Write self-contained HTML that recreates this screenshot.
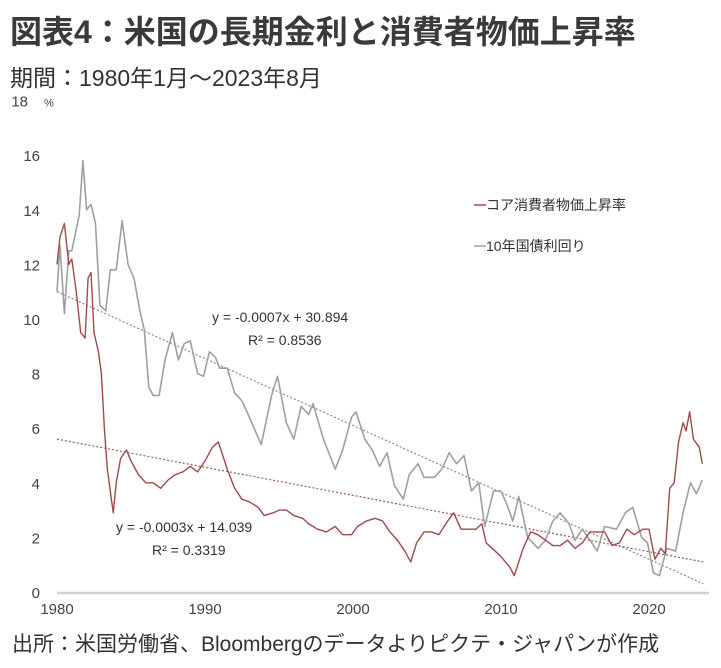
<!DOCTYPE html>
<html><head><meta charset="utf-8">
<style>
body{margin:0;background:#fff;width:721px;height:668px;overflow:hidden;font-family:"Liberation Sans","Noto Sans CJK JP",sans-serif;}
.t{position:absolute;left:10px;white-space:nowrap;color:#333;}
</style></head><body>
<div class="t" style="top:7px;font-size:32px;font-weight:bold;color:#3a3a3a;">図表4：米国の長期金利と消費者物価上昇率</div>
<div class="t" style="top:59px;font-size:23px;">期間：1980年1月～2023年8月</div>
<div class="t" style="top:628px;font-size:21px;left:12px;">出所：米国労働省、Bloombergのデータよりピクテ・ジャパンが作成</div>
<svg id="chart" width="721" height="668" style="position:absolute;left:0;top:0" font-family="Liberation Sans, sans-serif"></svg>
<script>
const yTicks=[0,2,4,6,8,10,12,14,16,18];
const xTicks=[1980,1990,2000,2010,2020];
const yieldT=[1980.0,1980.2,1980.5,1980.8,1981.0,1981.5,1981.75,1982.0,1982.3,1982.6,1982.9,1983.3,1983.6,1984.0,1984.4,1984.8,1985.2,1985.6,1985.9,1986.2,1986.5,1986.9,1987.3,1987.8,1988.2,1988.6,1989.0,1989.5,1989.9,1990.3,1990.7,1991.0,1991.5,1992.0,1992.5,1993.0,1993.8,1994.5,1994.9,1995.5,1996.0,1996.5,1997.0,1997.3,1998.0,1998.8,1999.3,1999.9,2000.2,2000.8,2001.3,2001.8,2002.3,2002.8,2003.4,2003.8,2004.4,2004.8,2005.5,2006.0,2006.5,2007.0,2007.5,2008.0,2008.5,2008.9,2009.5,2010.0,2010.4,2010.8,2011.2,2011.8,2012.5,2013.0,2013.5,2014.0,2014.6,2015.0,2015.5,2016.5,2017.0,2017.8,2018.4,2018.9,2019.5,2019.9,2020.3,2020.7,2021.2,2021.8,2022.3,2022.8,2023.2,2023.6];
const yieldV=[11,12.7,10.2,12.5,12.5,13.8,15.8,14,14.2,13.5,10.5,10.3,11.8,11.8,13.6,12,11.5,10.3,9.6,7.5,7.2,7.2,8.5,9.5,8.5,9.1,9.2,8,7.9,8.8,8.6,8.2,8.2,7.3,7,6.4,5.4,7.2,7.9,6.2,5.6,6.8,6.5,6.9,5.6,4.5,5.2,6.4,6.6,5.6,5.2,4.6,5.1,3.9,3.4,4.3,4.7,4.2,4.2,4.5,5.1,4.7,5.0,3.7,4.0,2.4,3.7,3.7,3.2,2.6,3.5,2.0,1.6,1.9,2.6,2.9,2.5,1.9,2.3,1.5,2.4,2.3,2.9,3.1,2.0,1.8,0.7,0.6,1.6,1.5,2.9,4.0,3.6,4.1];
const cpiT=[1980.0,1980.2,1980.5,1980.8,1981.0,1981.3,1981.6,1981.9,1982.1,1982.3,1982.5,1982.8,1983.0,1983.2,1983.4,1983.8,1984.0,1984.3,1984.7,1985.0,1985.5,1986.0,1986.5,1987.0,1987.5,1988.0,1988.5,1989.0,1989.5,1990.0,1990.5,1990.9,1991.5,1992.0,1992.5,1993.0,1993.6,1994.0,1994.6,1995.0,1995.5,1996.0,1996.6,1997.0,1997.6,1998.2,1998.8,1999.3,1999.9,2000.3,2000.9,2001.5,2002.0,2002.5,2003.0,2003.5,2003.9,2004.3,2004.8,2005.3,2005.8,2006.4,2006.8,2007.3,2007.8,2008.3,2008.7,2009.0,2009.6,2010.0,2010.6,2010.9,2011.5,2012.0,2012.5,2013.0,2013.5,2014.0,2014.5,2015.0,2015.5,2016.0,2016.5,2017.0,2017.5,2018.0,2018.5,2019.0,2019.6,2020.0,2020.4,2020.8,2021.1,2021.4,2021.7,2022.0,2022.3,2022.5,2022.75,2023.0,2023.4,2023.6];
const cpiV=[12.0,13.0,13.5,12,12.2,11.0,9.5,9.3,11.5,11.7,9.5,8.8,8.0,6.0,4.5,2.9,4.0,4.9,5.2,4.8,4.3,4.0,4.0,3.8,4.1,4.3,4.4,4.6,4.4,4.8,5.3,5.5,4.5,3.8,3.4,3.3,3.1,2.8,2.9,3.0,3.0,2.8,2.7,2.5,2.3,2.2,2.4,2.1,2.1,2.4,2.6,2.7,2.6,2.2,1.9,1.5,1.1,1.8,2.2,2.2,2.1,2.6,2.9,2.3,2.3,2.3,2.5,1.8,1.5,1.3,0.9,0.6,1.6,2.2,2.1,1.9,1.7,1.7,1.9,1.6,1.8,2.2,2.2,2.2,1.7,1.8,2.3,2.1,2.3,2.3,1.2,1.6,1.4,3.8,4.0,5.5,6.2,5.9,6.6,5.6,5.3,4.7];
const trendT=[1980.0,2023.67];
const yieldTrendV=[11.0,0.3];
const cpiTrendV=[5.6,1.1];
const svg=document.getElementById('chart');
const NS='http://www.w3.org/2000/svg';
const X=t=>57+(t-1980)*14.8;
const Y=v=>592-v*27.3;
function mk(tag,attrs){const e=document.createElementNS(NS,tag);for(const k in attrs)e.setAttribute(k,attrs[k]);svg.appendChild(e);return e;}
yTicks.forEach(v=>{const e=mk('text',{x:v===18?28:40,y:Y(v)+6,'text-anchor':'end','font-size':15,fill:'#444'});e.textContent=v;

});
const pct=mk('text',{x:44,y:Y(18)+6,'font-size':11,fill:'#444'});pct.textContent='%';


xTicks.forEach(v=>{const e=mk('text',{x:X(v),y:614,'text-anchor':'middle','font-size':15,fill:'#444'});e.textContent=v;

});
const ax=mk('line',{x1:57,y1:593,x2:709,y2:593,stroke:'#d0d0d0','stroke-width':2.5});


function line(ts,vs,col,w,dash,name){const p=mk('polyline',{points:ts.map((t,i)=>X(t)+','+Y(vs[i])).join(' '),fill:'none',stroke:col,'stroke-width':w,'stroke-linejoin':'round'});if(dash)p.setAttribute('stroke-dasharray',dash);

}
line(trendT,yieldTrendV,'#888',1.2,'2,2','yield-trendline');
line(trendT,cpiTrendV,'#a05a5a',1.2,'2,2','cpi-trendline');
line(yieldT,yieldV,'#a0a0a0',1.6,null,'yield-line');
line(cpiT,cpiV,'#a04a4a',1.4,null,'cpi-line');
function txt(x,y,s,name){const e=mk('text',{x:x,y:y,'font-size':14,fill:'#333'});e.textContent=s;

}
txt(212,322,'y = -0.0007x + 30.894','yield-trend-equation');
txt(248,345,'R² = 0.8536','yield-trend-r2');
txt(116,532,'y = -0.0003x + 14.039','cpi-trend-equation');
txt(152,555,'R² = 0.3319','cpi-trend-r2');
const l1=mk('line',{x1:474,y1:205,x2:486,y2:205,stroke:'#a04a4a','stroke-width':1.5});


txt(486,210,'コア消費者物価上昇率','legend-cpi');
const l2=mk('line',{x1:474,y1:246,x2:486,y2:246,stroke:'#a0a0a0','stroke-width':1.5});


txt(486,251,'10年国債利回り','legend-yield');
</script>
</body></html>
